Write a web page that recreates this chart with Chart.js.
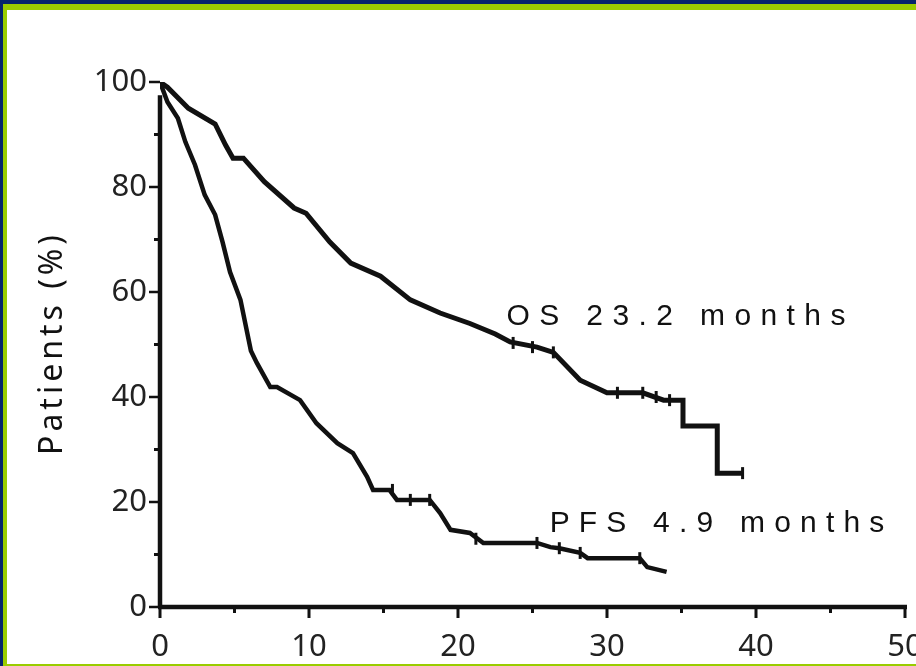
<!DOCTYPE html>
<html>
<head>
<meta charset="utf-8">
<title>OS / PFS Kaplan-Meier</title>
<script src="https://cdn.jsdelivr.net/npm/chart.js@4.4.1/dist/chart.umd.min.js"></script>
<style>
  html, body { margin: 0; padding: 0; width: 916px; height: 666px; overflow: hidden; background: #04246b; }
  #frame { position: absolute; left: 3px; top: 4px; width: 913px; height: 662px; background: #99cc00; }
  #paper { position: absolute; left: 4px; top: 6px; width: 909px; height: 654px; background: #fff; }
  canvas { display: block; }
</style>
</head>
<body>
<div id="frame"><div id="paper"><canvas id="km" width="909" height="654"></canvas></div></div>
<script>
// OS curve (months, % patients)
const osMonths = [0, 0.5, 1.9, 3.7, 4.4, 4.9, 5.6, 7.0, 9.0, 9.8, 11.4, 12.8, 14.8, 16.8, 18.8, 20.8, 22.5, 23.5, 25.3, 26.4, 28.2, 30.0, 32.4, 33.8, 35.1, 35.1, 37.4, 37.4, 39.1];
const osPct    = [100, 99, 95, 92, 88, 85.5, 85.5, 81, 76, 75, 69.5, 65.5, 63, 58.5, 56, 54, 52, 50.5, 49.5, 48.5, 43.2, 40.8, 40.8, 39.4, 39.4, 34.5, 34.5, 25.5, 25.5];

// PFS curve
const pfsMonths = [0, 0.5, 1.2, 1.7, 2.35, 3.0, 3.7, 4.2, 4.7, 5.4, 6.1, 6.5, 7.4, 7.85, 9.4, 10.5, 11.9, 12.95, 13.9, 14.3, 15.4, 15.9, 18.1, 18.8, 19.5, 20.8, 21.7, 25.3, 26.2, 26.8, 28.2, 28.7, 32.2, 32.7, 34.0];
const pfsPct    = [100, 96.2, 93.1, 88.6, 84.2, 78.5, 74.7, 69.5, 63.8, 58.5, 48.8, 46.5, 41.9, 41.9, 39.4, 35.0, 31.2, 29.3, 24.8, 22.3, 22.3, 20.4, 20.4, 17.9, 14.7, 14.1, 12.2, 12.2, 11.4, 11.2, 10.3, 9.3, 9.3, 7.6, 6.7];

// censoring marks
const osCensorMonths  = [23.7, 25.0, 26.4, 30.7, 32.4, 33.3, 34.2, 39.1];
const osCensorPct     = [50.3, 49.5, 48.5, 40.8, 40.8, 40.0, 39.4, 25.5];
const pfsCensorMonths = [15.6, 16.8, 18.1, 21.2, 25.3, 26.8, 28.2, 32.2];
const pfsCensorPct    = [22.3, 20.4, 20.4, 13.0, 12.2, 11.2, 10.3, 9.3];

// axes
const xMajorTicks = [0, 10, 20, 30, 40, 50];
const xMinorTicks = [5, 15, 25, 35, 45];
const yMajorTicks = [0, 20, 40, 60, 80, 100];
const yMinorTicks = [10, 30, 50, 70, 90];
const yAxisTop = 97.5;

const yTitle = 'Patients (%)';
const labels = [
  { text: 'OS 23.2 months', x: 23.25, y: 53.7, spacing: 9.4 },
  { text: 'PFS 4.9 months', x: 26.15, y: 14.3, spacing: 9.2 },
];

const INK = '#111';
const pts = (xs, ys) => xs.map((x, i) => ({ x, y: ys[i] }));

const kmAxes = {
  id: 'kmAxes',
  beforeDatasetsDraw(chart) {
    const { ctx, scales: { x, y } } = chart;
    const x0 = x.getPixelForValue(0), y0 = y.getPixelForValue(0);
    ctx.save();
    ctx.strokeStyle = INK;
    ctx.lineCap = 'butt';
    ctx.lineWidth = 4.5;
    ctx.beginPath();
    ctx.moveTo(x0 - 2, y0); ctx.lineTo(x.getPixelForValue(50) + 2, y0);
    ctx.moveTo(x0, y0); ctx.lineTo(x0, y.getPixelForValue(yAxisTop));
    ctx.stroke();

    ctx.lineWidth = 2.5;
    ctx.beginPath();
    yMajorTicks.forEach(v => { const p = y.getPixelForValue(v); ctx.moveTo(x0, p); ctx.lineTo(x0 - 11, p); });
    ctx.stroke();
    ctx.lineWidth = 3;
    ctx.beginPath();
    yMinorTicks.forEach(v => { const p = y.getPixelForValue(v); ctx.moveTo(x0, p); ctx.lineTo(x0 - 6, p); });
    xMajorTicks.forEach(v => { const p = x.getPixelForValue(v); ctx.moveTo(p, y0); ctx.lineTo(p, y0 + 11); });
    xMinorTicks.forEach(v => { const p = x.getPixelForValue(v); ctx.moveTo(p, y0); ctx.lineTo(p, y0 + 6); });
    ctx.stroke();
    ctx.restore();
  },
  afterDraw(chart) {
    const { ctx, scales: { x, y } } = chart;
    ctx.save();
    ctx.fillStyle = INK;
    // y axis title, letter spaced
    ctx.font = '32px "Noto Sans"';
    ctx.letterSpacing = '4px';
    ctx.translate(46, 333);
    ctx.rotate(-Math.PI / 2);
    ctx.textAlign = 'center';
    ctx.textBaseline = 'middle';
    ctx.fillText(yTitle, 0, 0);
    ctx.restore();

    ctx.save();
    ctx.fillStyle = INK;
    ctx.font = '30px "Liberation Sans", Arial, sans-serif';
    ctx.textAlign = 'left';
    ctx.textBaseline = 'alphabetic';
    labels.forEach(l => {
      ctx.letterSpacing = l.spacing + 'px';
      ctx.fillText(l.text, x.getPixelForValue(l.x), y.getPixelForValue(l.y));
    });
    ctx.restore();
  }
};

const tickFont = { family: '"Noto Sans", sans-serif', size: 31 };

new Chart(document.getElementById('km'), {
  type: 'line',
  data: {
    datasets: [
      { label: 'OS', data: pts(osMonths, osPct), borderColor: INK, borderWidth: 5, borderJoinStyle: 'miter', pointRadius: 0, tension: 0, fill: false },
      { label: 'PFS', data: pts(pfsMonths, pfsPct), borderColor: INK, borderWidth: 4.5, borderJoinStyle: 'miter', pointRadius: 0, tension: 0, fill: false },
      { label: 'OS censored', data: pts(osCensorMonths, osCensorPct), showLine: false, pointStyle: 'line', rotation: 90, pointRadius: 6, borderColor: INK, borderWidth: 3 },
      { label: 'PFS censored', data: pts(pfsCensorMonths, pfsCensorPct), showLine: false, pointStyle: 'line', rotation: 90, pointRadius: 6, borderColor: INK, borderWidth: 3 },
    ],
  },
  options: {
    responsive: false,
    animation: false,
    devicePixelRatio: 1,
    layout: { padding: { left: 0, right: 11, top: 72, bottom: 0 } },
    plugins: { legend: { display: false }, tooltip: { enabled: false } },
    scales: {
      x: {
        type: 'linear', min: 0, max: 50,
        ticks: { stepSize: 10, color: '#222', font: tickFont, padding: 22, maxRotation: 0 },
        grid: { display: false, drawTicks: false },
        border: { display: false },
        afterFit: s => { s.height = 57; s.paddingLeft = 0; s.paddingRight = 0; },
      },
      y: {
        type: 'linear', min: 0, max: 100,
        ticks: { stepSize: 20, color: '#222', font: tickFont, padding: 13 },
        grid: { display: false, drawTicks: false },
        border: { display: false },
        afterFit: s => { s.width = 153; s.paddingTop = 0; s.paddingBottom = 0; },
      },
    },
  },
  plugins: [kmAxes],
});
</script>
</body>
</html>
